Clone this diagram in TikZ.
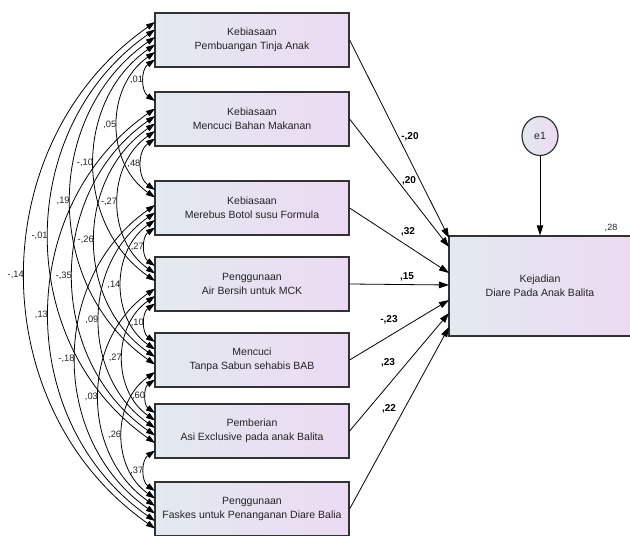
\documentclass[tikz,border=0pt]{standalone}
\usepackage{fontspec}
\setmainfont{Liberation Sans}
\usetikzlibrary{arrows.meta,shapes.geometric}
\definecolor{boxL}{RGB}{226,233,239}
\definecolor{boxR}{RGB}{236,218,243}
\definecolor{edgeC}{RGB}{50,50,50}
\definecolor{txt}{RGB}{35,35,35}
\begin{document}
\begin{tikzpicture}[x=1pt,y=1pt,
  box/.style={draw=edgeC, line width=1.2pt, left color=boxL, right color=boxR,
    minimum width=194pt, minimum height=54pt, inner sep=0pt, align=center,
    font=\fontsize{10.5}{14}\selectfont, text=txt},
  cov/.style={draw=black, line width=0.8pt,
    {Triangle[length=9pt,width=6pt]}-{Triangle[length=9pt,width=6pt]},
    bend right=55, looseness=1.07},
  cl/.style={font=\fontsize{9.3}{10}\selectfont, text=txt, anchor=east, inner sep=1pt},
  reg/.style={draw=black, line width=0.8pt, -{Triangle[length=10pt,width=6.5pt]}},
  pl/.style={font=\bfseries\fontsize{10}{12}\selectfont, text=black, inner sep=0pt}
]
\useasboundingbox (0,0) rectangle (630,536);

% exogenous boxes
\node[box] (b1) at (252,496) {Kebiasaan\\Pembuangan Tinja Anak};
\node[box] (b2) at (252,417) {Kebiasaan\\Mencuci Bahan Makanan};
\node[box] (b3) at (252,328) {Kebiasaan\\Merebus Botol susu Formula};
\node[box] (b4) at (252,252) {Penggunaan\\Air Bersih untuk MCK};
\node[box] (b5) at (252,176) {Mencuci\\Tanpa Sabun sehabis BAB};
\node[box] (b6) at (252,105) {Pemberian\\Asi Exclusive pada anak Balita};
\node[box] (b7) at (252,27) {Penggunaan\\Faskes untuk Penanganan Diare Balia};

% endogenous box
\node[box, minimum width=182pt, minimum height=100pt] (kd) at (540,250)
  {Kejadian\\Diare Pada Anak Balita};
\node[font=\fontsize{9}{10}\selectfont, text=txt, inner sep=0pt] (r2) at (611,308) {,28};

% error term
\node[draw=edgeC, line width=1.2pt, ellipse, left color=boxL, right color=boxR,
  minimum width=36pt, minimum height=39pt, inner sep=0pt,
  font=\fontsize{10.5}{12}\selectfont, text=txt] (e1) at (540,400) {e1};
\draw[reg] (e1.south) -- (kd.north);

% covariance end points on the left edges
\foreach \i/\t in {1/13,2/92,3/181,4/257,5/333,6/404,7/482}{
  \foreach \k in {0,...,5}{
    \coordinate (b\i-\k) at (155,{536-\t-9-7.5*\k});
  }
}

% covariances
\draw[cov] (b1-5) to node[cl]{,01} (b2-0);
\draw[cov] (b1-4) to node[cl]{,05} (b3-1);
\draw[cov] (b1-3) to node[cl]{-,10} (b4-2);
\draw[cov] (b1-2) to node[cl]{,19} (b5-3);
\draw[cov] (b1-1) to node[cl]{-,01} (b6-4);
\draw[cov] (b1-0) to node[cl]{-,14} (b7-5);
\draw[cov] (b2-5) to node[cl]{,48} (b3-0);
\draw[cov] (b2-4) to node[cl]{-,27} (b4-1);
\draw[cov] (b2-3) to node[cl]{-,26} (b5-2);
\draw[cov] (b2-2) to node[cl]{-,35} (b6-3);
\draw[cov] (b2-1) to node[cl]{,13} (b7-4);
\draw[cov] (b3-5) to node[cl]{,27} (b4-0);
\draw[cov] (b3-4) to node[cl]{,14} (b5-1);
\draw[cov] (b3-3) to node[cl]{,09} (b6-2);
\draw[cov] (b3-2) to node[cl]{-,18} (b7-3);
\draw[cov] (b4-5) to node[cl]{,10} (b5-0);
\draw[cov] (b4-4) to node[cl]{,27} (b6-1);
\draw[cov] (b4-3) to node[cl]{,03} (b7-2);
\draw[cov] (b5-5) to node[cl]{,60} (b6-0);
\draw[cov] (b5-4) to node[cl]{,26} (b7-1);
\draw[cov] (b6-5) to node[cl]{,37} (b7-0);

% regression end points
\coordinate (k1) at (449,298);
\coordinate (k2) at (449,289);
\coordinate (k3) at (449,263);
\coordinate (k4) at (449,251);
\coordinate (k5) at (449,236);
\coordinate (k6) at (449,223);
\coordinate (k7) at (449,209);

\draw[reg] (b1.east) -- (k1);
\draw[reg] (b2.east) -- (k2);
\draw[reg] (b3.east) -- (k3);
\draw[reg] (b4.east) -- (k4);
\draw[reg] (b5.east) -- (k5);
\draw[reg] (b6.east) -- (k6);
\draw[reg] (b7.east) -- (k7);

% regression weights
\node[pl] (w1) at (410,399) {-,20};
\node[pl] (w2) at (409,355) {,20};
\node[pl] (w3) at (408,304) {,32};
\node[pl] (w4) at (407,259) {,15};
\node[pl] (w5) at (389,216) {-,23};
\node[pl] (w6) at (388,173) {,23};
\node[pl] (w7) at (389,127) {,22};
\end{tikzpicture}
\end{document}
